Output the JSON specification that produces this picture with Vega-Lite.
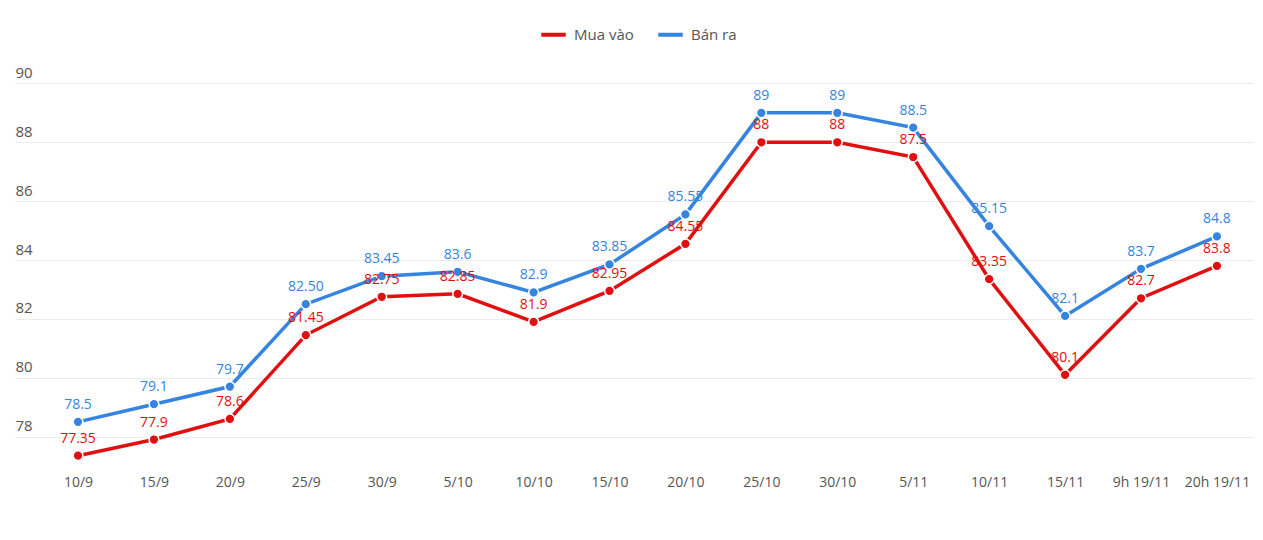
{
  "$schema": "https://vega.github.io/schema/vega-lite/v6.json",
  "width": 1238,
  "height": 412,
  "autosize": {"type": "none"},
  "padding": {"left": 15, "top": 54, "right": 10, "bottom": 74},
  "background": "white",
  "config": {
    "view": {"stroke": null},
    "font": "Open Sans",
    "axis": {"labelFont": "Open Sans", "labelColor": "#555555"},
    "legend": {"labelFont": "Open Sans"}
  },
  "data": {
    "values": [
      {"d": "10/9", "s": "Mua vào", "v": 77.35, "t": "77.35"},
      {"d": "15/9", "s": "Mua vào", "v": 77.9, "t": "77.9"},
      {"d": "20/9", "s": "Mua vào", "v": 78.6, "t": "78.6"},
      {"d": "25/9", "s": "Mua vào", "v": 81.45, "t": "81.45"},
      {"d": "30/9", "s": "Mua vào", "v": 82.75, "t": "82.75"},
      {"d": "5/10", "s": "Mua vào", "v": 82.85, "t": "82.85"},
      {"d": "10/10", "s": "Mua vào", "v": 81.9, "t": "81.9"},
      {"d": "15/10", "s": "Mua vào", "v": 82.95, "t": "82.95"},
      {"d": "20/10", "s": "Mua vào", "v": 84.55, "t": "84.55"},
      {"d": "25/10", "s": "Mua vào", "v": 88, "t": "88"},
      {"d": "30/10", "s": "Mua vào", "v": 88, "t": "88"},
      {"d": "5/11", "s": "Mua vào", "v": 87.5, "t": "87.5"},
      {"d": "10/11", "s": "Mua vào", "v": 83.35, "t": "83.35"},
      {"d": "15/11", "s": "Mua vào", "v": 80.1, "t": "80.1"},
      {"d": "9h 19/11", "s": "Mua vào", "v": 82.7, "t": "82.7"},
      {"d": "20h 19/11", "s": "Mua vào", "v": 83.8, "t": "83.8"},
      {"d": "10/9", "s": "Bán ra", "v": 78.5, "t": "78.5"},
      {"d": "15/9", "s": "Bán ra", "v": 79.1, "t": "79.1"},
      {"d": "20/9", "s": "Bán ra", "v": 79.7, "t": "79.7"},
      {"d": "25/9", "s": "Bán ra", "v": 82.5, "t": "82.50"},
      {"d": "30/9", "s": "Bán ra", "v": 83.45, "t": "83.45"},
      {"d": "5/10", "s": "Bán ra", "v": 83.6, "t": "83.6"},
      {"d": "10/10", "s": "Bán ra", "v": 82.9, "t": "82.9"},
      {"d": "15/10", "s": "Bán ra", "v": 83.85, "t": "83.85"},
      {"d": "20/10", "s": "Bán ra", "v": 85.55, "t": "85.55"},
      {"d": "25/10", "s": "Bán ra", "v": 89, "t": "89"},
      {"d": "30/10", "s": "Bán ra", "v": 89, "t": "89"},
      {"d": "5/11", "s": "Bán ra", "v": 88.5, "t": "88.5"},
      {"d": "10/11", "s": "Bán ra", "v": 85.15, "t": "85.15"},
      {"d": "15/11", "s": "Bán ra", "v": 82.1, "t": "82.1"},
      {"d": "9h 19/11", "s": "Bán ra", "v": 83.7, "t": "83.7"},
      {"d": "20h 19/11", "s": "Bán ra", "v": 84.8, "t": "84.8"}
    ]
  },
  "encoding": {
    "x": {
      "field": "d",
      "type": "ordinal",
      "sort": null,
      "scale": {"type": "point", "padding": 0.6525, "align": 0.636},
      "axis": {
        "title": null,
        "labelAngle": 0,
        "domain": false,
        "ticks": false,
        "labelPadding": 9,
        "labelFontSize": 14,
        "labelColor": "#555555"
      }
    },
    "y": {
      "field": "v",
      "type": "quantitative",
      "scale": {"domain": [77, 91], "nice": false, "zero": false},
      "axis": {
        "title": null,
        "values": [78, 80, 82, 84, 86, 88, 90],
        "domain": false,
        "ticks": false,
        "tickSize": 0,
        "labelAlign": "left",
        "labelBaseline": "bottom",
        "labelPadding": 0,
        "labelOffset": -3,
        "labelFontSize": 15,
        "labelColor": "#555555",
        "grid": true,
        "gridColor": "#ebebeb",
        "gridWidth": 1
      }
    }
  },
  "layer": [
    {
      "mark": {"type": "line", "strokeWidth": 3.5},
      "encoding": {
        "color": {
          "field": "s",
          "type": "nominal",
          "sort": ["Mua vào", "Bán ra"],
          "scale": {"domain": ["Mua vào", "Bán ra"], "range": ["#e01010", "#3584e0"]},
          "legend": {
            "title": null,
            "orient": "none",
            "direction": "horizontal",
            "legendX": 524,
            "legendY": -34,
            "symbolType": "stroke",
            "symbolStrokeWidth": 4,
            "symbolSize": 600,
            "labelFontSize": 15,
            "labelColor": "#555555",
            "columnPadding": 16,
            "labelOffset": 6
          }
        }
      }
    },
    {
      "mark": {"type": "point", "filled": true, "size": 95, "stroke": "white", "strokeWidth": 1.5, "opacity": 1},
      "encoding": {
        "fill": {
          "field": "s",
          "type": "nominal",
          "scale": {"domain": ["Mua vào", "Bán ra"], "range": ["#e01010", "#3584e0"]},
          "legend": null
        }
      }
    },
    {
      "mark": {"type": "text", "baseline": "bottom", "dy": -10, "fontSize": 14, "font": "Open Sans"},
      "encoding": {
        "text": {"field": "t"},
        "fill": {
          "field": "s",
          "type": "nominal",
          "scale": {"domain": ["Mua vào", "Bán ra"], "range": ["#e01010", "#3584e0"]},
          "legend": null
        }
      }
    }
  ]
}
